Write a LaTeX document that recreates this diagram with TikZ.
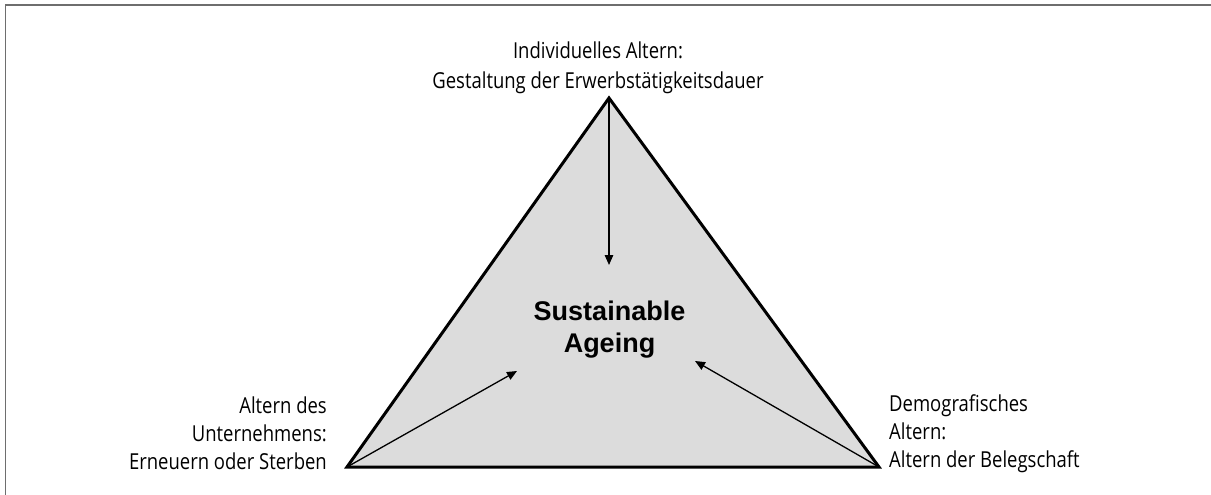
\documentclass[tikz,border=0pt]{standalone}
\usepackage{fontspec}
\setmainfont{Open Sans}[FakeStretch=0.84]
\setsansfont{Liberation Sans}
\usetikzlibrary{arrows.meta}
\definecolor{trifill}{RGB}{220,220,220}
\definecolor{framegray}{RGB}{110,110,110}
\begin{document}
\begin{tikzpicture}[x=1pt,y=-1pt,
  lbl/.style={font=\fontsize{22}{28}\selectfont, inner sep=0pt},
  centre/.style={font=\sffamily\bfseries\fontsize{27}{32}\selectfont, inner sep=0pt, align=center},
  arr/.style={-{Triangle[length=10pt,width=8.5pt]}, line width=1.3pt}]
\useasboundingbox (0,0) rectangle (1211,495);
\draw[framegray, line width=1.5pt] (5.5,495) -- (5.5,5) -- (1211,5);
\coordinate (A) at (609,98);
\coordinate (L) at (347,467);
\coordinate (R) at (879,467);
\filldraw[fill=trifill, line width=3pt, line join=miter] (A) -- (L) -- (R) -- cycle;
\coordinate (tA) at (609,265);
\coordinate (tL) at (517,371);
\coordinate (tR) at (695,361);
\draw[arr] (A) -- (tA);
\draw[arr] (L) -- (tL);
\draw[arr] (R) -- (tR);
\node[centre, anchor=base] (c) at (609.5,352) {Sustainable\\Ageing};
\node[lbl, align=center, anchor=base] (top) at (598,88.3) {Individuelles Altern:\\[2pt]Gestaltung der Erwerbstätigkeitsdauer};
\node[lbl, align=right, anchor=base east] (left) at (327,469) {Altern des\\Unternehmens:\\Erneuern oder Sterben};
\node[lbl, align=left, anchor=base west] (right) at (889,467.5) {Demografisches\\Altern:\\Altern der Belegschaft};
\end{tikzpicture}
\end{document}
